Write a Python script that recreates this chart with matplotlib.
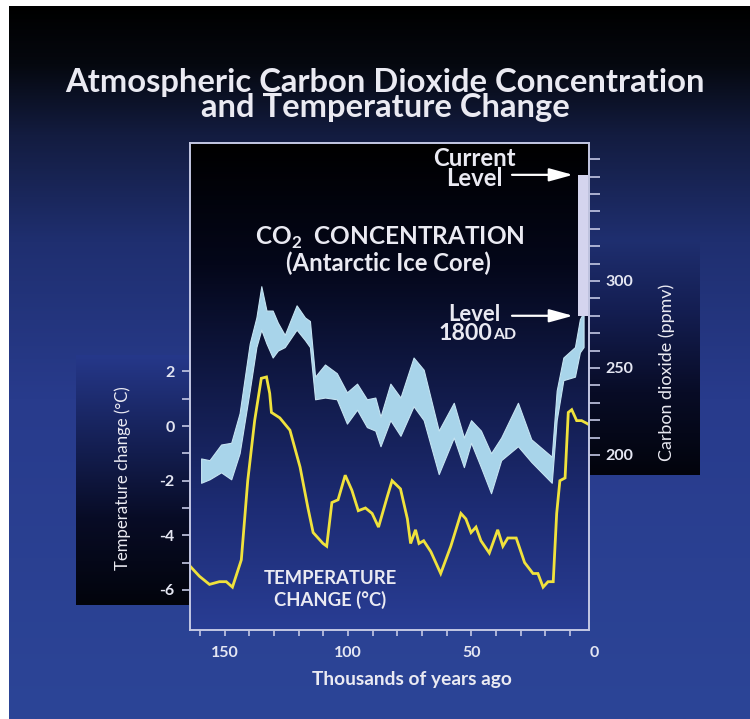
import numpy as np
import matplotlib
matplotlib.use('Agg')
import matplotlib.pyplot as plt
from matplotlib.colors import LinearSegmentedColormap
from matplotlib.transforms import blended_transform_factory

plt.rcParams['font.family'] = ['Lato', 'DejaVu Sans']
plt.rcParams['mathtext.fontset'] = 'custom'
plt.rcParams['mathtext.rm'] = 'Lato:bold'
plt.rcParams['mathtext.bf'] = 'Lato:bold'

# ---------------- data ----------------
temp_age = [164.3, 160.2, 156.1, 152.1, 149.3, 146.8, 143.2, 140.6, 137.8, 135.1,
            133.0, 131.7, 131.0, 127.6, 123.5, 119.4, 116.2, 114.1, 110.1, 108.6,
            106.5, 104.0, 101.1, 98.4, 95.8, 92.9, 90.2, 87.6, 84.1, 82.1,
            78.7, 75.9, 74.6, 72.6, 71.2, 69.3, 66.4, 62.4, 58.3, 54.2,
            52.2, 50.1, 48.1, 46.1, 42.7, 39.3, 37.2, 35.2, 31.8, 28.4,
            25.0, 23.0, 20.9, 18.9, 16.8, 15.4, 14.1, 12.0, 10.7, 9.3,
            7.3, 5.3, 3.2, 2.3]
temp_change = [-5.1, -5.5, -5.8, -5.7, -5.7, -5.9, -4.9, -2.0, 0.2, 1.75,
               1.8, 1.2, 0.5, 0.3, -0.15, -1.5, -3.0, -3.9, -4.3, -4.4,
               -2.8, -2.7, -1.8, -2.35, -3.1, -3.0, -3.2, -3.7, -2.6, -2.0,
               -2.3, -3.4, -4.3, -3.8, -4.3, -4.2, -4.6, -5.4, -4.4, -3.2,
               -3.4, -3.9, -3.7, -4.2, -4.65, -3.8, -4.4, -4.1, -4.1, -5.0,
               -5.4, -5.4, -5.9, -5.7, -5.7, -3.2, -2.0, -1.9, 0.5, 0.6,
               0.2, 0.2, 0.1, 0.05]

co2_age = [159.5, 156.1, 151.4, 147.3, 143.9, 139.8, 137.1, 135.1, 133.0, 130.5,
           128.4, 125.6, 120.8, 117.4, 115.4, 113.3, 109.3, 104.5, 100.4, 96.3,
           92.3, 88.9, 86.8, 82.8, 78.7, 73.4, 69.3, 63.2, 57.1, 53.0,
           50.1, 46.1, 42.0, 37.9, 31.1, 25.7, 17.4, 15.4, 12.7, 8.0,
           6.0, 4.5]
co2_low = [184, 186, 190, 186, 201, 237, 262, 272, 264, 256,
           260, 262, 272, 266, 262, 232, 233, 232, 218, 226,
           216, 214, 205, 220, 211, 228, 220, 189, 210, 193,
           207, 193, 178, 197, 205, 196, 184, 220, 243, 245,
           259, 262]
co2_high = [198, 197, 206, 207, 224, 264, 279, 297, 283, 283,
            276, 269, 286, 279, 277, 245, 252, 247, 236, 241,
            232, 233, 222, 241, 233, 256, 249, 214, 230, 210,
            220, 214, 201, 210, 230, 209, 199, 237, 256, 262,
            278, 282]

co2_1800 = 280
co2_current = 361

age_ticks = [150, 100, 50, 0]
age_minor = [160, 140, 130, 120, 110, 90, 80, 70, 60, 40, 30, 20, 10]
temp_ticks = [-6, -4, -2, 0, 2]
temp_tick_labels = ['-6', '-4', '-2', '0', '2']
temp_minor = [-5, -3, -1, 1]
co2_ticks = [200, 250, 300]
co2_minor = [210, 220, 230, 240, 260, 270, 280, 290, 310, 320, 330, 340, 350, 360, 370]

# ---------------- layout helpers ----------------
W, H = 750, 719
fig = plt.figure(figsize=(7.5, 7.19), dpi=100, facecolor='white')


def px_rect(x0, y0, x1, y1):
    return [x0 / W, 1 - y1 / H, (x1 - x0) / W, (y1 - y0) / H]


def gradient_axes(rect, stops, zorder):
    a = fig.add_axes(rect, zorder=zorder)
    cmap = LinearSegmentedColormap.from_list('g', stops)
    grad = np.linspace(0, 1, 256).reshape(-1, 1)
    a.imshow(grad, aspect='auto', cmap=cmap, extent=[0, 1, 0, 1], origin='upper',
             interpolation='bilinear')
    a.set_xlim(0, 1)
    a.set_ylim(0, 1)
    a.set_axis_off()
    return a


def fx(x):
    return x / W


def fy(y):
    return 1 - y / H


# full background
gradient_axes(px_rect(9, 6, 750, 719),
              [(0, '#000000'), (0.08, '#05080f'), (0.18, '#131c40'), (0.33, '#1f2f70'),
               (0.55, '#283b8c'), (1, '#2c4597')], zorder=0)
# axis-label boxes
gradient_axes(px_rect(76, 355, 190, 605),
              [(0, '#26388a'), (0.3, '#17235c'), (0.65, '#080c26'), (1, '#02040c')], zorder=1)
gradient_axes(px_rect(589, 240, 700, 475),
              [(0, '#1f2f70'), (0.3, '#141e52'), (0.65, '#080c26'), (1, '#02040c')], zorder=1)
# plot panel
gradient_axes(px_rect(190, 143, 589, 630),
              [(0, '#000000'), (0.25, '#04071a'), (0.5, '#111a48'), (0.75, '#1d2c74'),
               (1, '#293d94')], zorder=1.5)

ax = fig.add_axes(px_rect(190, 143, 589, 630), zorder=2)
ax.patch.set_visible(False)
ax2 = ax.twinx()
ax2.patch.set_visible(False)

spine_col = '#c4c8e4'
lab_col = '#e4e6f2'

# data
ax2.fill_between(co2_age, co2_low, co2_high, facecolor='#a8d4ea', edgecolor='#c6e4f2',
                 lw=0.8, zorder=3)
ax2.fill_between([2.7, 6.8], [co2_1800, co2_1800], [co2_current, co2_current],
                 facecolor='#d4d4ee', edgecolor='none', zorder=3)
ax.plot(temp_age, temp_change, color='#f0e23c', lw=2.0, solid_joinstyle='miter', zorder=3)

ax.set_xlim(164, 2.3)
ax.set_ylim(-7.47, 10.37)
ax2.set_ylim(99.4, 379.3)

for a in (ax, ax2):
    for s in a.spines.values():
        s.set_color(spine_col)
        s.set_linewidth(1.2)

ax.set_xticks(age_ticks[:-1])
ax.set_xticks(age_minor, minor=True)
ax.tick_params(axis='x', which='both', direction='out', length=4, width=1.2,
               color=spine_col, labelbottom=False)
xt = blended_transform_factory(ax.transData, ax.transAxes)
for a_ in age_ticks:
    ax.text(a_, -23 / 487, str(a_), transform=xt, ha='center', va='center',
            fontsize=11.5, fontweight='bold', color=lab_col, clip_on=False)

ax.set_yticks(temp_ticks)
ax.set_yticklabels(temp_tick_labels)
ax.set_yticks(temp_minor, minor=True)
ax.tick_params(axis='y', which='both', direction='out', length=6, width=1.2,
               color=spine_col, labelcolor=lab_col, labelsize=11.5, pad=5)
for t in ax.get_yticklabels():
    t.set_fontweight('bold')

ax2.set_yticks(co2_ticks)
ax2.set_yticks(co2_minor, minor=True)
ax2.tick_params(axis='y', which='both', direction='out', length=8, width=1.2,
                color=spine_col, labelcolor=lab_col, labelsize=11.5, pad=4)
for t in ax2.get_yticklabels():
    t.set_fontweight('bold')

renderer = fig.canvas.get_renderer()


def fit(t, target, dim='w'):
    bb = t.get_window_extent(renderer)
    cur = bb.width if dim == 'w' else bb.height
    t.set_fontsize(t.get_fontsize() * target / cur)
    return t.get_fontsize()


def block(x, y_first, y_last, text, width, size0=14, **kw):
    """multi-line centred text: fit width, then set line spacing in pixels"""
    t = fig.text(fx(x), fy((y_first + y_last) / 2), text, fontsize=size0,
                 ha='center', va='center', multialignment='center', **kw)
    s = fit(t, width)
    nlines = text.count('\n') + 1
    gap_px = (y_last - y_first) / (nlines - 1)
    t.set_linespacing(gap_px / (s * 100 / 72))
    return t


txt = dict(color='#eaeaf2', fontweight='bold')

block(385, 82, 108, 'Atmospheric Carbon Dioxide Concentration\nand Temperature Change',
      640, 20, **txt)

fit(fig.text(fx(412), fy(680), 'Thousands of years ago', fontsize=12, ha='center',
             va='center', **txt), 199)
fit(fig.text(fx(123), fy(478), 'Temperature change (°C)', fontsize=12, rotation=90,
             color='#eaeaf2', ha='center', va='center'), 183, 'h')
fit(fig.text(fx(667), fy(372), 'Carbon dioxide (ppmv)', fontsize=12, rotation=90,
             color='#eaeaf2', ha='center', va='center'), 177, 'h')

fit(fig.text(fx(390), fy(238), r'CO$_\mathbf{2}$  CONCENTRATION', fontsize=15, zorder=5,
             ha='center', va='center', **txt), 270)
fit(fig.text(fx(388), fy(263), '(Antarctic Ice Core)', fontsize=12, zorder=5,
             ha='center', va='center', **txt), 204)

block(474, 159, 178, 'Current\nLevel', 82, 12, zorder=5, **txt)

s = fit(fig.text(fx(474), fy(314), 'Level', fontsize=12, zorder=5, ha='center',
                 va='center', **txt), 52)
fig.text(fx(492), fy(333), '1800', fontsize=s * 1.05, zorder=5, color='#eaeaf2',
         ha='right', va='center', fontweight='bold')
fig.text(fx(493), fy(335), 'AD', fontsize=s * 0.72, zorder=5, color='#eaeaf2',
         ha='left', va='center', fontweight='bold')

block(330, 578, 601, 'TEMPERATURE\nCHANGE (°C)', 134, 14, zorder=5, **txt)

arrow = dict(arrowstyle='-|>,head_length=0.8,head_width=0.22', color='white', lw=1.6,
             mutation_scale=18, shrinkA=0, shrinkB=0)
ax2.annotate('', xy=(8.8, co2_current), xytext=(33.5, co2_current), arrowprops=arrow,
             zorder=5)
ax2.annotate('', xy=(8.8, co2_1800), xytext=(33.5, co2_1800), arrowprops=arrow, zorder=5)

fig.savefig('out.png', dpi=100, facecolor='white')
